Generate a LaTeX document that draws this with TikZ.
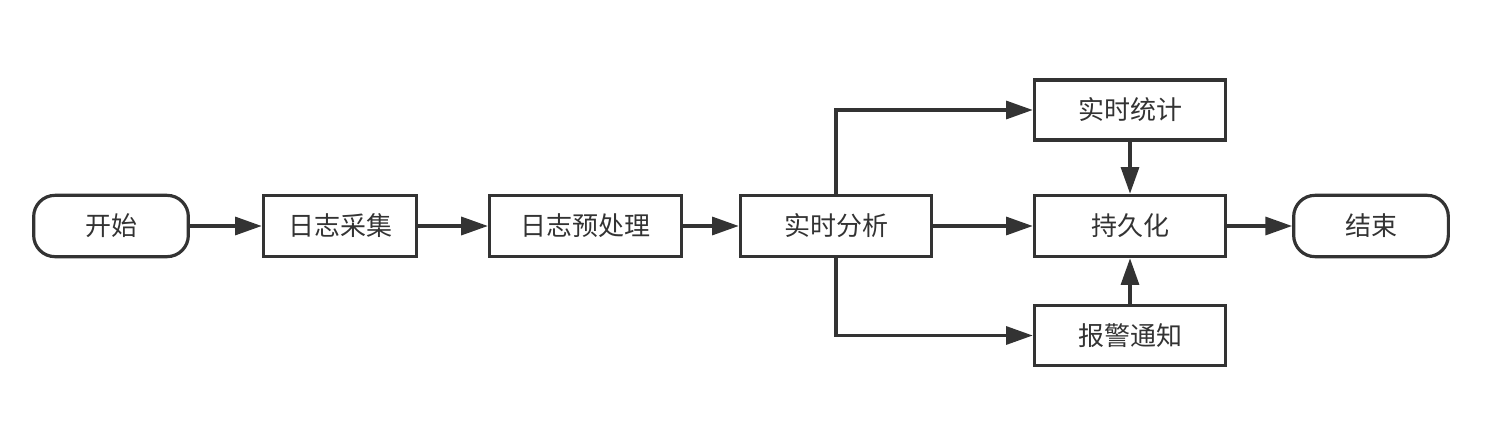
\documentclass[tikz,border=0pt]{standalone}
\usepackage{fontspec}
\setmainfont{Noto Sans CJK SC}
\usetikzlibrary{arrows.meta}
\definecolor{ink}{HTML}{333333}

\begin{document}
\begin{tikzpicture}[x=0.75pt,y=-0.75pt,
  box/.style={draw=ink,line width=2.4pt,minimum height=46pt,inner sep=0pt,text=ink,font=\fontsize{19.5}{19.5}\selectfont},
  term/.style={box,rounded corners=16pt,minimum width=116pt},
  flow/.style={draw=ink,line width=2.4pt,-{Triangle[length=20pt,width=13.5pt]}}]
\useasboundingbox (0,0) rectangle (1487,442);
\node[term] (start) at (111,226) {开始};
\node[box,minimum width=115pt] (collect) at (340,226) {日志采集};
\node[box,minimum width=144pt] (prep) at (585.5,226) {日志预处理};
\node[box,minimum width=143.5pt] (analyse) at (836,226) {实时分析};
\node[box,minimum width=143.5pt,minimum height=45pt] (stat) at (1130,110) {实时统计};
\node[box,minimum width=143.5pt] (persist) at (1130,226) {持久化};
\node[box,minimum width=143.5pt,minimum height=45pt] (alarm) at (1130,335.5) {报警通知};
\node[term] (finish) at (1371,226) {结束};
\draw[flow] (start) -- (collect);
\draw[flow] (collect) -- (prep);
\draw[flow] (prep) -- (analyse);
\draw[flow] (analyse) -- (persist);
\draw[flow] (analyse.north) |- (stat.west);
\draw[flow] (analyse.south) |- (alarm.west);
\draw[flow] (stat) -- (persist);
\draw[flow] (alarm) -- (persist);
\draw[flow] (persist) -- (finish);
\end{tikzpicture}
\end{document}
